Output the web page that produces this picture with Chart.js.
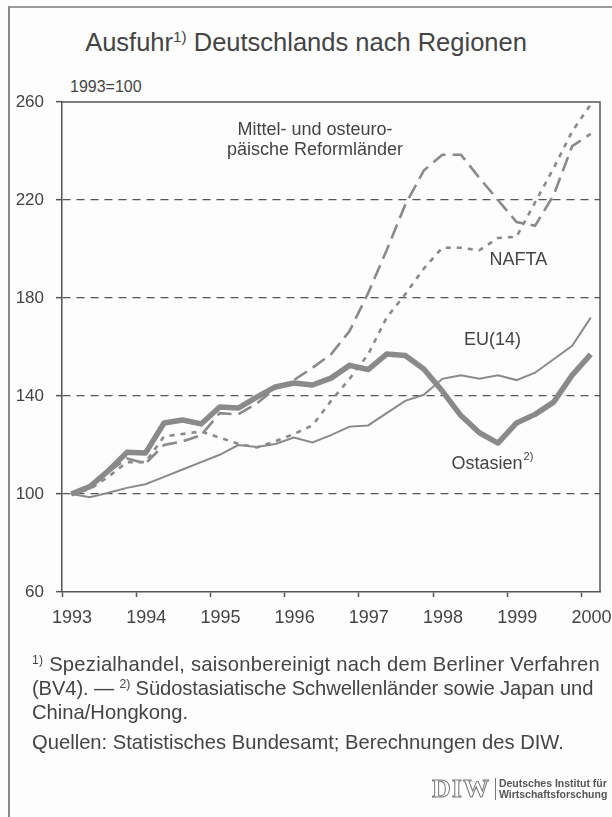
<!DOCTYPE html>
<html lang="de">
<head>
<meta charset="utf-8">
<script src="https://cdn.jsdelivr.net/npm/chart.js@4.4.1/dist/chart.umd.min.js"></script>
<style>
  body { margin: 0; background: #fff; }
  #page { position: relative; width: 612px; height: 817px; overflow: hidden;
          font-family: "Liberation Sans", Arial, Helvetica, sans-serif; color: #444; background: #fdfdfd; }
  #frame { position: absolute; left: 8px; top: 6px; right: -4px; bottom: -4px;
           border-left: 2px solid #8a8a8a; border-top: 2px solid #9a9a9a; }
  #chartBox { position: absolute; left: 0; top: 0; width: 612px; height: 817px; }
  #title { position: absolute; top: 28px; left: 0; width: 612px; text-align: center; font-size: 25.5px; }
  #title sup, .note sup { font-size: 60%; vertical-align: 0.6em; line-height: 0; }
  #unit { position: absolute; left: 70px; top: 78px; font-size: 16px; }
  .note { position: absolute; left: 32px; width: 580px; font-size: 20.2px; line-height: 24px; white-space: nowrap; }
  #logo { position: absolute; left: 432px; top: 774px; display: flex; align-items: center; }
  #logo .mark { font-size: 26px; font-weight: bold; color: #fff; letter-spacing: 1px;
                -webkit-text-stroke: 1px #777; font-family: "Liberation Serif", serif; }
  #logo .txt { margin-left: 5px; font-size: 10.5px; font-weight: bold; line-height: 11px; color: #555;
               border-left: 1px solid #777; padding-left: 3px; }
</style>
</head>
<body>
<div id="page">
  <div id="frame"></div>
  <div id="title">Ausfuhr<sup>1)</sup> Deutschlands nach Regionen</div>
  <div id="unit">1993=100</div>
  <div id="chartBox"><canvas id="chart" width="612" height="817"></canvas></div>
  <div class="note" style="top:652px"><span style="letter-spacing:0.25px"><sup>1)</sup> Spezialhandel, saisonbereinigt nach dem Berliner Verfahren</span><br><span style="letter-spacing:-0.12px">(BV4). — <sup>2)</sup> Südostasiatische Schwellenländer sowie Japan und</span><br>China/Hongkong.</div>
  <div class="note" style="top:730px">Quellen: Statistisches Bundesamt; Berechnungen des DIW.</div>
  <div id="logo"><span class="mark">DIW</span><span class="txt">Deutsches Institut für<br>Wirtschaftsforschung</span></div>
</div>
<script>
// quarterly observations, 1993 Q1 .. 2000 Q1
const quarters = [
  "1993 Q1", "1993 Q2", "1993 Q3", "1993 Q4",
  "1994 Q1", "1994 Q2", "1994 Q3", "1994 Q4",
  "1995 Q1", "1995 Q2", "1995 Q3", "1995 Q4",
  "1996 Q1", "1996 Q2", "1996 Q3", "1996 Q4",
  "1997 Q1", "1997 Q2", "1997 Q3", "1997 Q4",
  "1998 Q1", "1998 Q2", "1998 Q3", "1998 Q4",
  "1999 Q1", "1999 Q2", "1999 Q3", "1999 Q4",
  "2000 Q1",
];
const yearTicks = [1993, 1994, 1995, 1996, 1997, 1998, 1999, 2000];
const valueTicks = [60, 100, 140, 180, 220, 260];

const moe = [100, 103, 109, 114.5, 112.5, 120, 121.5, 124, 133, 132.5, 137, 143, 146.5, 151.5, 157,
             166.5, 182, 199.5, 218, 232, 238.5, 238.5, 229, 220, 211, 209.5, 222, 242, 247];
const nafta = [100, 102, 107, 113, 113, 123.5, 124.5, 125.5, 123, 120.5, 119, 121.5, 124.5, 128, 138,
               147, 157, 172, 181.5, 192, 200.5, 200.5, 199.5, 204.5, 205, 219, 233, 248, 259];
const eu14 = [100, 98.7, 100.5, 102.5, 104, 107, 110, 113, 116, 120, 119.2, 120.4, 123, 121, 124,
              127.5, 128, 133, 138, 140.5, 147, 148.5, 147, 148.5, 146.5, 149.5, 155, 160.5, 172];
const ostasien = [100, 103, 109.5, 117, 116.7, 129, 130.2, 128.6, 135.5, 135.1, 139.5, 143.7, 145.3, 144.5, 147.3,
                  152.5, 150.8, 157.1, 156.5, 151, 142, 132, 125, 120.8, 129, 132.5, 137.5, 148.5, 157];

const TEXT = "#444";
const AXIS = "#555";
const LINE = "#8a8a8a";

// place each quarter in the middle of its span on the year axis
function quarterPos(q) {
  const [y, n] = q.split(" Q");
  return Number(y) + (Number(n) - 0.5) / 4;
}
const toPoints = (values) => values.map((v, i) => ({ x: quarterPos(quarters[i]), y: v }));

// series captions, anchored in data coordinates
const captions = [
  { text: "Mittel- und osteuro-", x: 1996.41, y: 248.4, align: "center" },
  { text: "päische Reformländer", x: 1996.41, y: 240.3, align: "center" },
  { text: "NAFTA", x: 1999.15, y: 195.5, align: "center" },
  { text: "EU(14)", x: 1998.80, y: 162.9, align: "center" },
  { text: "Ostasien", sup: "2)", x: 1998.25, y: 112.2, align: "left" },
];

const captionPlugin = {
  id: "captions",
  afterDatasetsDraw(chart) {
    const { ctx, scales: { x, y } } = chart;
    ctx.save();
    ctx.fillStyle = TEXT;
    ctx.textBaseline = "middle";
    captions.forEach((c) => {
      const px = x.getPixelForValue(c.x);
      const py = y.getPixelForValue(c.y);
      ctx.font = '18px "Liberation Sans", Arial, sans-serif';
      ctx.textAlign = c.align;
      ctx.fillText(c.text, px, py);
      if (c.sup) {
        const w = ctx.measureText(c.text).width;
        ctx.font = '11px "Liberation Sans", Arial, sans-serif';
        ctx.textAlign = "left";
        ctx.fillText(c.sup, px + w + 1, py - 7);
      }
    });
    ctx.restore();
  },
};

// top and right edges of the plot box
const framePlugin = {
  id: "plotFrame",
  afterDraw(chart) {
    const { ctx, chartArea: a } = chart;
    ctx.save();
    ctx.strokeStyle = AXIS;
    ctx.lineWidth = 1.5;
    ctx.beginPath();
    ctx.moveTo(a.left, a.top);
    ctx.lineTo(a.right, a.top);
    ctx.lineTo(a.right, a.bottom);
    ctx.stroke();
    ctx.restore();
  },
};

new Chart(document.getElementById("chart"), {
  type: "line",
  data: {
    datasets: [
      { label: "Mittel- und osteuropäische Reformländer", data: toPoints(moe),
        borderColor: LINE, borderWidth: 2.6, borderDash: [15, 7] },
      { label: "NAFTA", data: toPoints(nafta),
        borderColor: LINE, borderWidth: 2.6, borderDash: [5, 6] },
      { label: "EU(14)", data: toPoints(eu14),
        borderColor: LINE, borderWidth: 2 },
      { label: "Ostasien", data: toPoints(ostasien),
        borderColor: LINE, borderWidth: 5.5, borderJoinStyle: "round" },
    ],
  },
  options: {
    responsive: false,
    animation: false,
    devicePixelRatio: 1,
    layout: { padding: { left: 0, top: 102, right: 12, bottom: 165 } },
    elements: { point: { radius: 0 }, line: { tension: 0, fill: false } },
    plugins: { legend: { display: false }, tooltip: { enabled: false } },
    scales: {
      x: {
        type: "linear",
        min: 1993,
        max: 2000.25,
        afterBuildTicks: (s) => { s.ticks = yearTicks.map((v) => ({ value: v })); },
        afterFit: (s) => { s.height = 60; },
        ticks: { callback: (v) => String(v), labelOffset: 10, padding: 10, color: TEXT,
                 font: { size: 18, family: '"Liberation Sans", Arial, sans-serif' },
                 maxRotation: 0, autoSkip: false },
        grid: { drawOnChartArea: false, tickLength: 5, tickColor: AXIS, tickWidth: 1.5 },
        border: { color: AXIS, width: 1.5 },
      },
      y: {
        min: 60,
        max: 260,
        afterBuildTicks: (s) => { s.ticks = valueTicks.map((v) => ({ value: v })); },
        afterFit: (s) => { s.width = 62; },
        ticks: { padding: 12, color: TEXT, font: { size: 17, family: '"Liberation Sans", Arial, sans-serif' } },
        grid: {
          color: (c) => (c.tick && (c.tick.value === 60 || c.tick.value === 260)) ? "rgba(0,0,0,0)" : AXIS,
          lineWidth: 1.3, tickLength: 6, tickColor: AXIS, tickWidth: 1.5,
        },
        border: { color: AXIS, width: 1.5, dash: [8, 6] },
      },
    },
  },
  plugins: [captionPlugin, framePlugin],
});
</script>
</body>
</html>
